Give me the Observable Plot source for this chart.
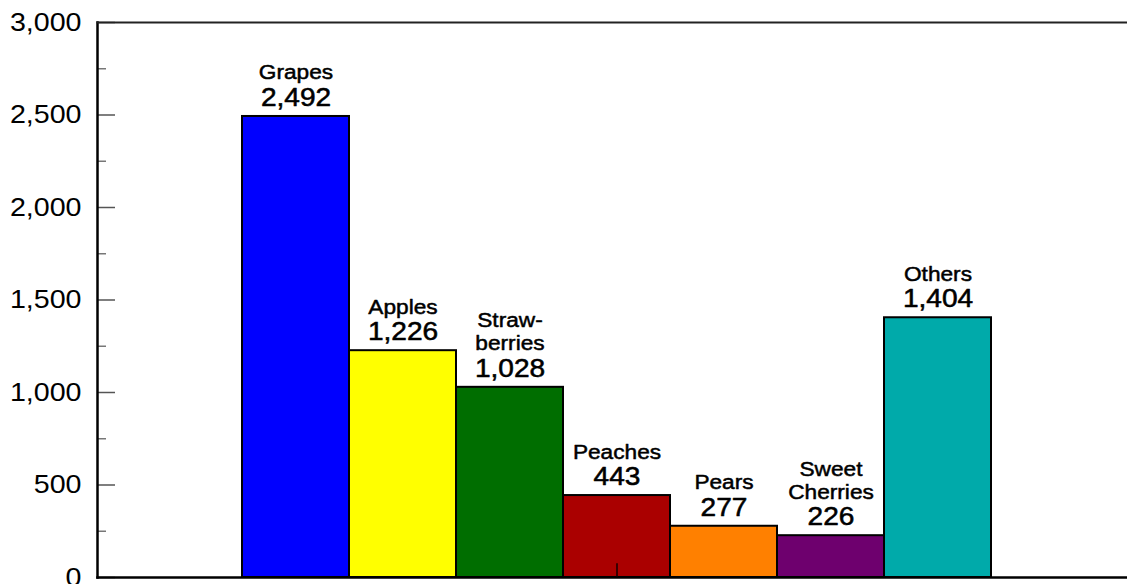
<!DOCTYPE html>
<html>
<head>
<meta charset="utf-8">
<script src="https://cdn.jsdelivr.net/npm/d3@7"></script>
<script src="https://cdn.jsdelivr.net/npm/@observablehq/plot@0.6"></script>
<style>
  html, body { margin: 0; padding: 0; background: #fff; overflow: hidden; }
  #chart svg { display: block; }
</style>
</head>
<body>
<div id="chart"></div>
<script>
const categories = ["Grapes", "Apples", "Strawberries", "Peaches", "Pears", "Sweet Cherries", "Others"];
const labelText = ["Grapes", "Apples", "Straw-\nberries", "Peaches", "Pears", "Sweet\nCherries", "Others"];
const values = [2492, 1226, 1028, 443, 277, 226, 1404];
const colors = ["#0000ff", "#ffff00", "#006e00", "#aa0000", "#ff8000", "#6e006e", "#00aaaa"];
const majorTicks = [0, 500, 1000, 1500, 2000, 2500, 3000];
const minorTicks = [250, 750, 1250, 1750, 2250, 2750];

const data = categories.map((c, i) => ({name: c, label: labelText[i], value: values[i], color: colors[i]}));
const font = "'Liberation Sans', Arial, sans-serif";
const fmt = d3.format(",");

const chart = Plot.plot({
  width: 1127,
  height: 584,
  marginLeft: 97,
  marginRight: 0,
  marginTop: 22,
  marginBottom: 7,
  style: {fontFamily: font, background: "#fff", overflow: "visible"},
  x: {domain: categories, range: [240, 993], padding: 0, axis: null},
  y: {domain: [0, 3000], axis: null, label: null},
  marks: [
    Plot.barY(data, {x: "name", y: "value", fill: "color", stroke: "#000", strokeWidth: 2}),
    Plot.ruleX(["Peaches"], {x: d => d, y1: 0, y2: 75, stroke: "#3a0000", strokeWidth: 2}),
    Plot.axisY({ticks: majorTicks, tickSize: -18, text: null, label: null, stroke: "#555", strokeWidth: 1.5}),
    Plot.axisY({ticks: minorTicks, tickSize: -9, text: null, label: null, stroke: "#777", strokeWidth: 1.5}),
    Plot.axisY({ticks: majorTicks, tickSize: 0, tickPadding: 16, tickFormat: fmt, fontSize: 26.5, fill: "#000", stroke: "#000", strokeWidth: 0.6, label: null}),
    Plot.frame({anchor: "left", stroke: "#000", strokeWidth: 2.5}),
    Plot.frame({anchor: "top", stroke: "#222", strokeWidth: 2}),
    Plot.frame({anchor: "bottom", stroke: "#000", strokeWidth: 2.5}),
    Plot.text(data, {x: "name", y: "value", text: d => fmt(d.value), dy: -19, lineAnchor: "middle", fontSize: 26, fill: "#000", stroke: "#000", strokeWidth: 0.55}),
    Plot.text(data, {x: "name", y: "value", text: "label", dy: -37, lineAnchor: "bottom", lineHeight: 1.1, fontSize: 21, fill: "#000", stroke: "#000", strokeWidth: 0.5})
  ]
});

// slight horizontal stretch of glyphs, as in the reference
d3.select(chart).selectAll("text").each(function() {
  const t = this.getAttribute("transform") || "";
  const x = parseFloat(this.getAttribute("x")) || 0;
  this.setAttribute("transform", `${t} translate(${x},0) scale(1.08,1) translate(${-x},0)`);
});

document.getElementById("chart").appendChild(chart);
</script>
</body>
</html>
